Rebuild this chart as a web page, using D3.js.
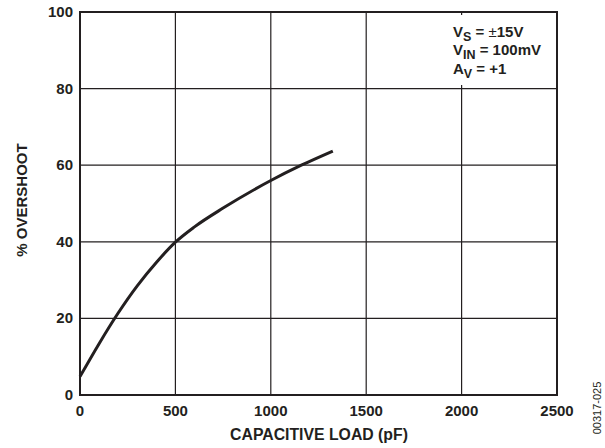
<!DOCTYPE html>
<html><head><meta charset="utf-8">
<script src="https://cdn.jsdelivr.net/npm/d3@7"></script>
<style>body{margin:0;background:#fff}svg{display:block}text{font-family:"Liberation Sans",Arial,sans-serif}</style>
</head><body><svg id="c" width="605" height="448"></svg>
<script>
const xTicks = [0, 500, 1000, 1500, 2000, 2500];
const yTicks = [0, 20, 40, 60, 80, 100];
const loadPF = [0, 100, 200, 300, 400, 500, 600, 750, 1000, 1160, 1325];
const overshootPct = [4.8, 13.4, 21.4, 28.5, 34.6, 39.9, 43.9, 48.8, 56, 60, 63.7];

const svg = d3.select("#c");
const L = 80, R = 557, T = 12, B = 395;
const x = d3.scaleLinear().domain([0, 2500]).range([L, R]);
const y = d3.scaleLinear().domain([0, 100]).range([B, T]);
const ink = "#231f20";

// grid
svg.append("g").selectAll("line").data(xTicks.slice(1, -1)).join("line")
  .attr("x1", d => x(d)).attr("x2", d => x(d)).attr("y1", T).attr("y2", B)
  .attr("stroke", ink).attr("stroke-width", 1.2);
svg.append("g").selectAll("line").data(yTicks.slice(1, -1)).join("line")
  .attr("y1", d => y(d)).attr("y2", d => y(d)).attr("x1", L).attr("x2", R)
  .attr("stroke", ink).attr("stroke-width", 1.2);

// annotation background
svg.append("rect").attr("x", 448).attr("y", 15).attr("width", 104).attr("height", 70).attr("fill", "#fff");

// frame
svg.append("rect").attr("x", L).attr("y", T).attr("width", R - L).attr("height", B - T)
  .attr("fill", "none").attr("stroke", ink).attr("stroke-width", 2);

// curve
const line = d3.line().x(d => x(d[0])).y(d => y(d[1])).curve(d3.curveMonotoneX);
svg.append("path").datum(loadPF.map((v, i) => [v, overshootPct[i]]))
  .attr("d", line).attr("fill", "none").attr("stroke", ink).attr("stroke-width", 3);

// tick labels
svg.append("g").selectAll("text").data(xTicks).join("text")
  .attr("x", d => x(d)).attr("y", B + 21).attr("text-anchor", "middle")
  .attr("font-size", 15).attr("font-weight", "bold").attr("fill", ink).text(d => d);
svg.append("g").selectAll("text").data(yTicks).join("text")
  .attr("x", 73).attr("y", d => y(d) + 5).attr("text-anchor", "end")
  .attr("font-size", 15).attr("font-weight", "bold").attr("fill", ink).text(d => d);

// axis titles
svg.append("text").attr("x", 319).attr("y", 440).attr("text-anchor", "middle")
  .attr("font-size", 15.8).attr("font-weight", "bold").attr("fill", ink).text("CAPACITIVE LOAD (pF)");
svg.append("text").attr("transform", "translate(27,200) rotate(-90)").attr("text-anchor", "middle")
  .attr("font-size", 15).attr("font-weight", "bold").attr("fill", ink).text("% OVERSHOOT");

// figure id
svg.append("text").attr("transform", "translate(601,408) rotate(-90)").attr("text-anchor", "middle")
  .attr("font-size", 11).attr("fill", ink).text("00317-025");

// annotation
const ann = [
  {main: "V", sub: "S", rest: " = ", pm: "\u00b1", tail: "15V", y: 37},
  {main: "V", sub: "IN", rest: " = 100mV", y: 55},
  {main: "A", sub: "V", rest: " = +1", y: 74}
];
ann.forEach(a => {
  const t = svg.append("text").attr("x", 453).attr("y", a.y)
    .attr("font-size", 15).attr("font-weight", "bold").attr("fill", ink);
  t.append("tspan").text(a.main);
  t.append("tspan").attr("dy", 4).attr("font-size", 12.5).text(a.sub);
  t.append("tspan").attr("dy", -4).text(a.rest);
  if (a.pm) {
    t.append("tspan").attr("font-weight", "normal").text(a.pm);
    t.append("tspan").text(a.tail);
  }
});
</script></body></html>
